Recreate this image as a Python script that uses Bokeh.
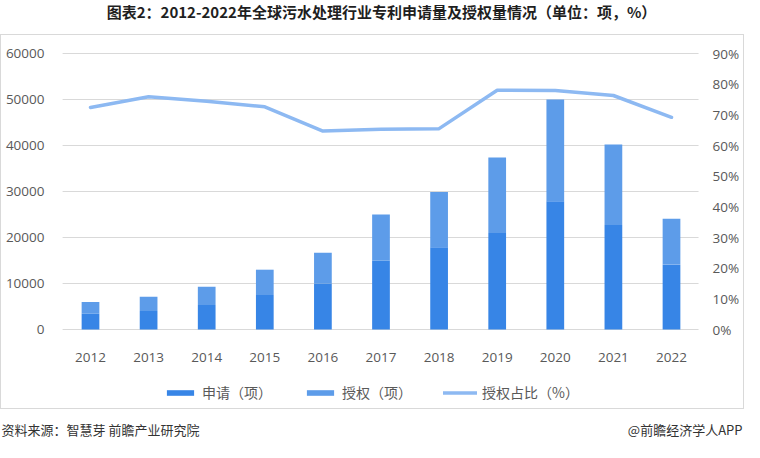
from bokeh.plotting import figure
from bokeh.models import (ColumnDataSource, LinearAxis, Range1d, Legend, LegendItem,
                          Label, FixedTicker, PrintfTickFormatter, InlineStyleSheet)
from bokeh.embed import file_html
from bokeh.resources import INLINE

years = [2012, 2013, 2014, 2015, 2016, 2017, 2018, 2019, 2020, 2021, 2022]
applications = [3400, 4000, 5300, 7500, 10000, 15000, 17900, 21000, 27900, 22700, 14100]
grants = [2600, 3100, 4000, 5500, 6700, 10000, 12000, 16400, 22100, 17500, 10000]
grant_ratio = [72.4, 75.9, 74.4, 72.6, 64.7, 65.3, 65.5, 78.0, 77.9, 76.3, 69.2]
left_ticks = [0, 10000, 20000, 30000, 40000, 50000, 60000]
right_ticks = [0, 10, 20, 30, 40, 50, 60, 70, 80, 90]

title_text = "图表2：2012-2022年全球污水处理行业专利申请量及授权量情况（单位：项，%）"
source_text = "资料来源：智慧芽 前瞻产业研究院"
brand_text = "@前瞻经济学人APP"
series_names = ["申请（项）", "授权（项）", "授权占比（%）"]

# ---- layout (canvas pixels; the canvas sits at page offset 8,8)
W, H = 744, 442
X0_PX, X1_PX = 90.0, 671.0     # centre of first / last year
Y0_PX, YT_PX = 329.0, 53.0     # y = 0 and y = 60000
LEFT_MAX, PCT_MAX = 60000, 90
FONT = "Open Sans"
CJK = "Noto Sans CJK SC"

ppx = (X1_PX - X0_PX) / (years[-1] - years[0])
x_start = years[0] - X0_PX / ppx
x_end = years[-1] + (W - X1_PX) / ppx
ppy = (Y0_PX - YT_PX) / LEFT_MAX
ppp = (Y0_PX - YT_PX) / PCT_MAX

box_css = InlineStyleSheet(css="""
:host { position: relative; }
:host::after { content: ""; position: absolute; left: 0px; top: 34px; width: 742px; height: 373px;
  border: 1px solid #d9d9d9; pointer-events: none; }
""")

src = ColumnDataSource(dict(year=years, applications=applications, grants=grants, ratio=grant_ratio))

p = figure(width=W, height=H,
           x_range=Range1d(x_start, x_end),
           y_range=Range1d(-(H - Y0_PX) / ppy, LEFT_MAX + YT_PX / ppy),
           output_backend="svg", toolbar_location=None, tools="",
           min_border=0, stylesheets=[box_css])
p.outline_line_color = None
p.xgrid.visible = False
p.ygrid.visible = False
p.extra_y_ranges = {"pct": Range1d(-(H - Y0_PX) / ppp, PCT_MAX + YT_PX / ppp)}

# horizontal gridlines across the category band
n = len(left_ticks)
p.segment(x0=[years[0] - 0.48] * n, x1=[years[-1] + 0.465] * n, y0=left_ticks, y1=left_ticks,
          line_color="#d9d9d9", line_width=1)

bars = p.vbar_stack(["applications", "grants"], x="year", width=0.305, source=src,
                    color=["#3785E6", "#5D9CE9"], line_color=None)
ln = p.line("year", "ratio", source=src, y_range_name="pct", line_color="#8DB9F2",
            line_width=3.5, line_join="round", line_cap="round")

# axes drawn at fixed positions inside the canvas
xax = p.xaxis[0]
xax.ticker = FixedTicker(ticks=years)
xax.fixed_location = 0
xax.major_label_standoff = 17

lax = p.yaxis[0]
lax.ticker = FixedTicker(ticks=left_ticks)
lax.fixed_location = x_start + 58 / ppx
lax.major_tick_out = 0
lax.major_tick_in = 0
lax.major_label_standoff = 14

rax = LinearAxis(y_range_name="pct", ticker=FixedTicker(ticks=right_ticks),
                 formatter=PrintfTickFormatter(format="%d%%"))
rax.fixed_location = x_start + 698 / ppx
rax.major_tick_out = 0
rax.major_tick_in = 0
rax.major_label_standoff = 14
p.add_layout(rax, "right")

for ax in [lax, rax, xax]:
    ax.axis_line_color = None
    ax.major_tick_line_color = None
    ax.minor_tick_line_color = None
    ax.major_label_text_font = FONT
    ax.major_label_text_font_size = "13.5px"
    ax.major_label_text_color = "#595959"

legend = Legend(items=[LegendItem(label=series_names[0], renderers=[bars[0]]),
                       LegendItem(label=series_names[1], renderers=[bars[1]]),
                       LegendItem(label=series_names[2], renderers=[ln])],
                orientation="horizontal", location=(163, 40), margin=0, padding=0,
                glyph_width=34, glyph_height=7, label_standoff=5, spacing=31,
                border_line_color=None, background_fill_alpha=0,
                label_text_font=CJK, label_text_font_size="14px", label_text_color="#595959")
p.add_layout(legend, "center")


def lab(cx, cy, text, align, size, color, bold=False):
    # cx, cy in canvas px from the top-left corner
    p.add_layout(Label(x=cx, y=H - cy, x_units="screen", y_units="screen", text=text,
                       text_align=align, text_baseline="middle", text_font=CJK,
                       text_font_size=size, text_color=color,
                       text_font_style="bold" if bold else "normal"))


lab(381, 10.5, title_text, "center", "15px", "#1f1f1f", bold=True)
lab(1, 429, source_text, "left", "13px", "#333333")
lab(742, 429, brand_text, "right", "13px", "#333333")

open("out.html", "w").write(file_html(p, INLINE))
